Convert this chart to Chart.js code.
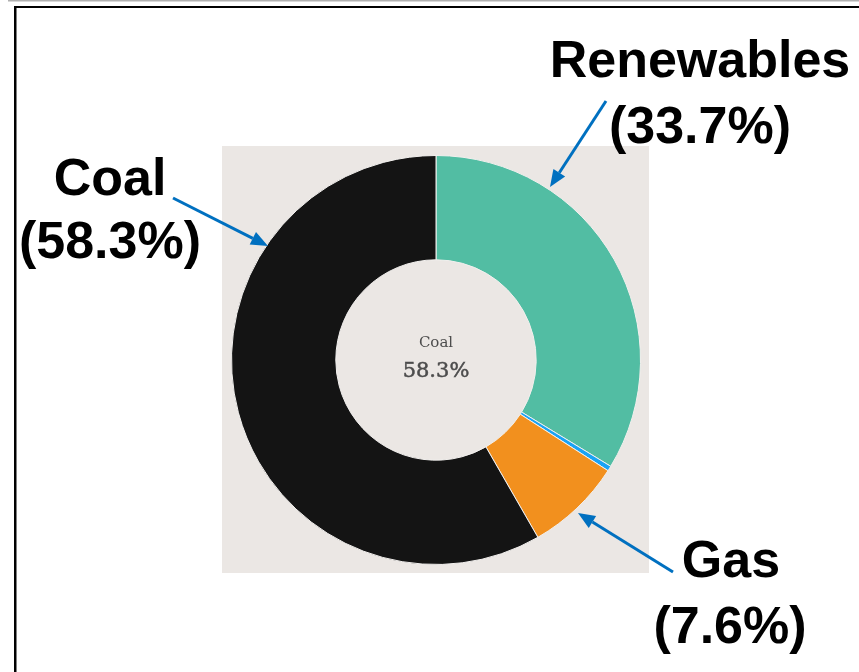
<!DOCTYPE html>
<html>
<head>
<meta charset="utf-8">
<script src="https://cdn.jsdelivr.net/npm/chart.js@4"></script>
<style>
  html, body { margin: 0; padding: 0; background: #fff; }
  #wrap { position: relative; width: 859px; height: 672px; }
</style>
</head>
<body>
<div id="wrap"><canvas id="chart" width="859" height="672"></canvas></div>
<script>
const sources = ['Renewables', 'Other', 'Gas', 'Coal'];
const shares = [33.7, 0.4, 7.6, 58.3];
const colors = ['#52bda3', '#1aa3f5', '#f2901e', '#141414'];

// callout labels: [source, line1, line2]
const callouts = [
  ['Renewables', 'Renewables', '(33.7%)'],
  ['Coal', 'Coal', '(58.3%)'],
  ['Gas', 'Gas', '(7.6%)']
];

const frame = {
  id: 'frame',
  beforeDraw(chart) {
    const ctx = chart.ctx;
    ctx.save();
    ctx.fillStyle = '#fff';
    ctx.fillRect(0, 0, chart.width, chart.height);
    ctx.fillStyle = '#b0b0b0';
    ctx.fillRect(8, 0, chart.width - 8, 1.5);
    ctx.fillStyle = '#000';
    ctx.fillRect(14, 6, chart.width - 14, 2);
    ctx.fillRect(14, 6, 2.5, chart.height - 6);
    ctx.fillStyle = '#ebe7e4';
    ctx.fillRect(222, 146, 427, 427);
    ctx.restore();
  }
};

function arrow(ctx, x1, y1, x2, y2) {
  const a = Math.atan2(y2 - y1, x2 - x1);
  const len = 17, w = 7;
  const bx = x2 - len * Math.cos(a), by = y2 - len * Math.sin(a);
  ctx.strokeStyle = '#0070c0';
  ctx.fillStyle = '#0070c0';
  ctx.lineWidth = 3;
  ctx.beginPath();
  ctx.moveTo(x1, y1);
  ctx.lineTo(bx, by);
  ctx.stroke();
  ctx.beginPath();
  ctx.moveTo(x2, y2);
  ctx.lineTo(bx + w * Math.sin(a), by - w * Math.cos(a));
  ctx.lineTo(bx - w * Math.sin(a), by + w * Math.cos(a));
  ctx.closePath();
  ctx.fill();
}

const notes = {
  id: 'notes',
  afterDraw(chart) {
    const ctx = chart.ctx;
    const arc = chart.getDatasetMeta(0).data[0];
    ctx.save();
    // centre text
    ctx.textAlign = 'center';
    ctx.fillStyle = '#4d4d4d';
    ctx.font = '15px "DejaVu Serif"';
    ctx.fillText(sources[3], arc.x, 347);
    ctx.font = '21px "DejaVu Serif"';
    ctx.lineWidth = 0.5;
    ctx.strokeStyle = '#4d4d4d';
    ctx.fillText(shares[3].toFixed(1) + '%', arc.x, 377);
    ctx.strokeText(shares[3].toFixed(1) + '%', arc.x, 377);

    // callouts
    ctx.fillStyle = '#000';
    ctx.font = 'bold 52px "Liberation Sans", Arial, sans-serif';
    const pos = {
      Renewables: [700, 77, 700, 143],
      Coal: [110, 195, 110, 258],
      Gas: [731, 577, 730, 643]
    };
    callouts.forEach(([k, l1, l2]) => {
      const p = pos[k];
      ctx.fillText(l1, p[0], p[1]);
      ctx.fillText(l2, p[2], p[3]);
    });

    arrow(ctx, 173, 198, 268, 246);
    arrow(ctx, 606, 101, 550, 187);
    arrow(ctx, 673, 572, 578, 513);
    ctx.restore();
  }
};

new Chart(document.getElementById('chart'), {
  type: 'doughnut',
  data: {
    labels: sources,
    datasets: [{
      data: shares,
      backgroundColor: colors,
      borderColor: '#f2f0ee',
      borderWidth: 1
    }]
  },
  options: {
    responsive: false,
    animation: false,
    cutout: '49%',
    layout: { padding: { left: 231, top: 155, right: 218, bottom: 107 } },
    plugins: {
      legend: { display: false },
      tooltip: { enabled: false },
      title: { display: false }
    }
  },
  plugins: [frame, notes]
});
</script>
</body>
</html>
